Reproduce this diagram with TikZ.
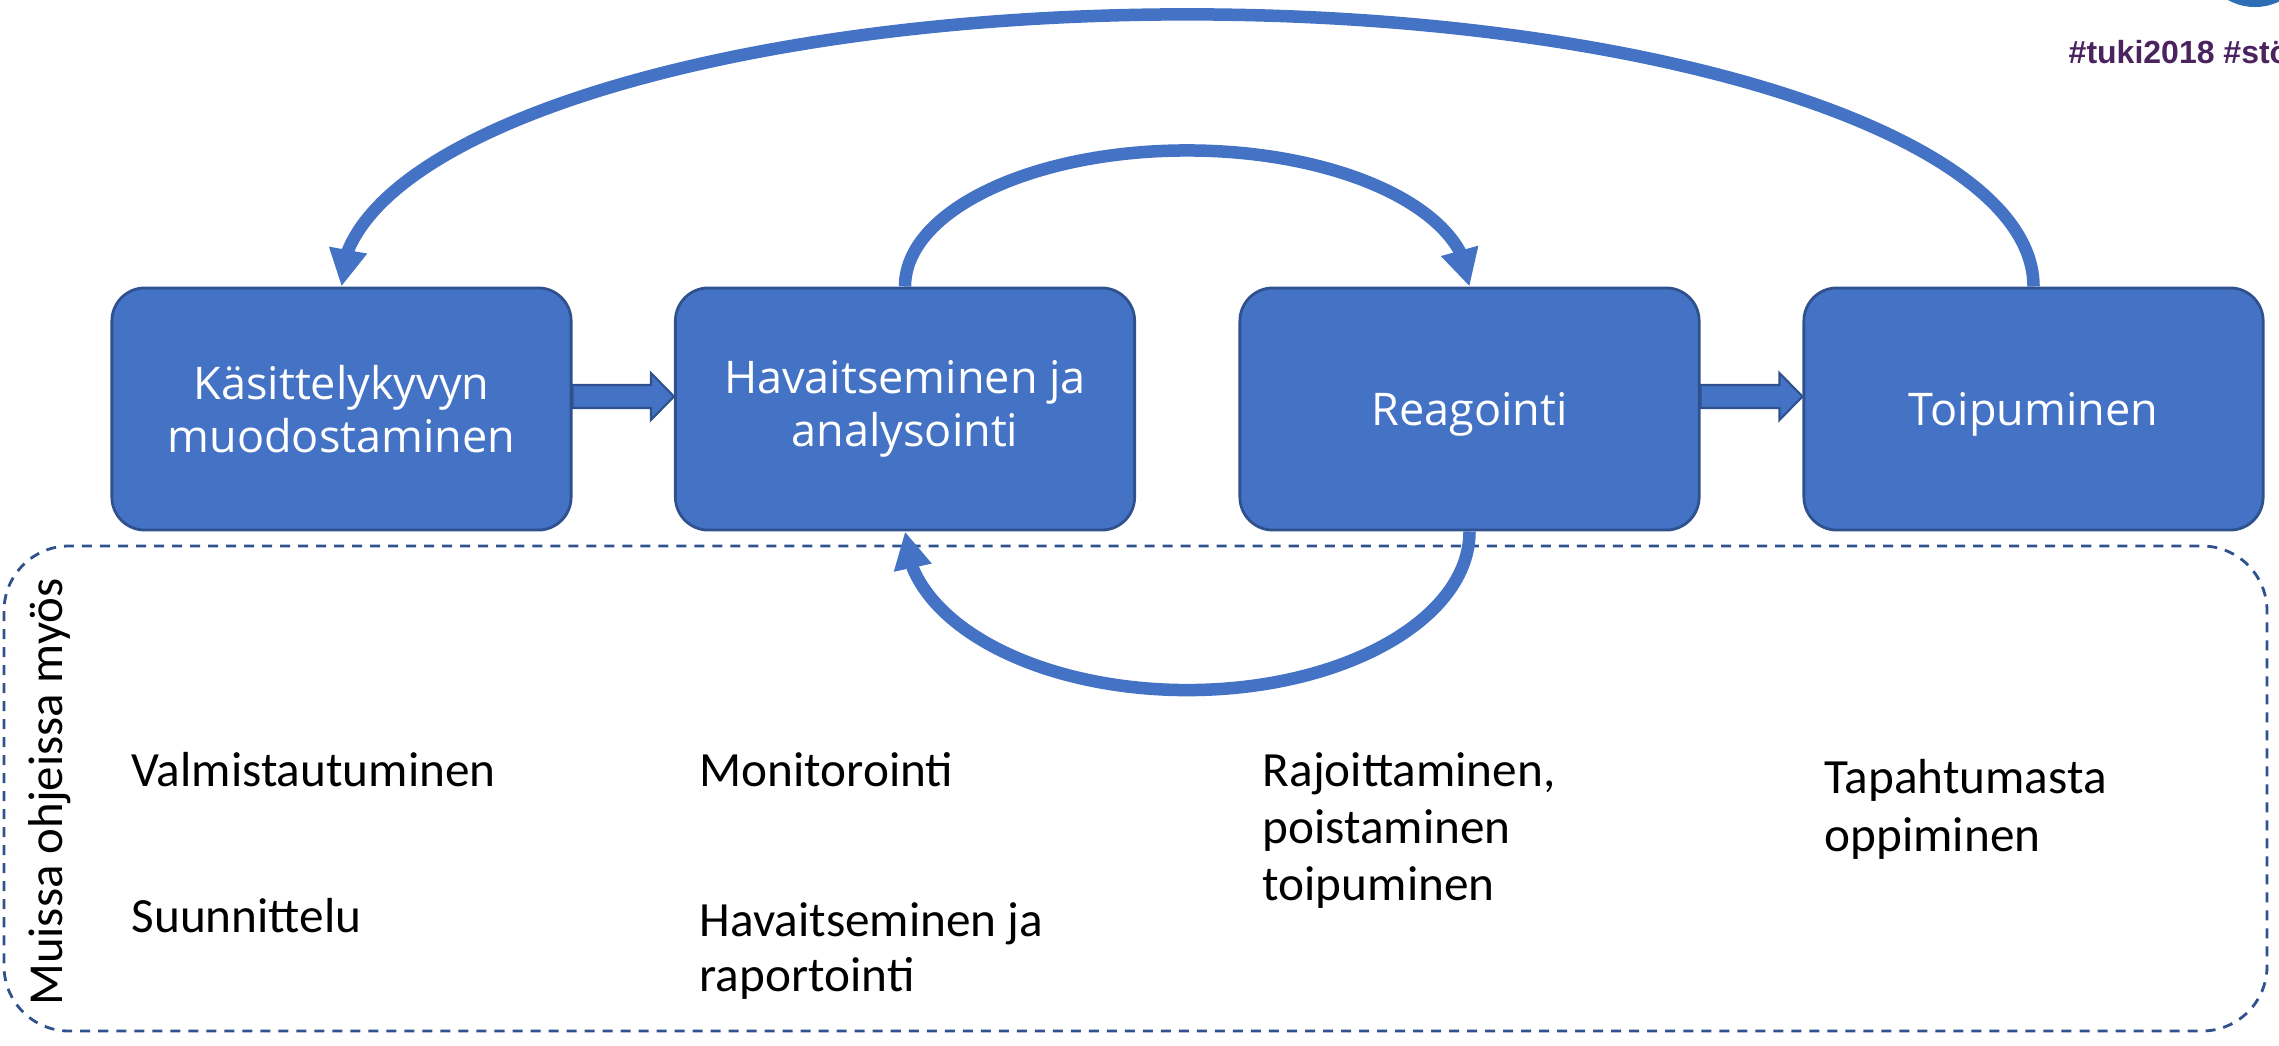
\documentclass[tikz,border=0pt]{standalone}
\usepackage{fontspec}
\setmainfont{Carlito}
\newfontfamily\boxfont{Open Sans}
\newfontfamily\tagfont{Liberation Sans}
\usetikzlibrary{arrows.meta,calc}
\definecolor{procblue}{HTML}{4472C4}
\definecolor{procedge}{HTML}{2F528F}
\definecolor{tagpurple}{RGB}{75,35,95}
\definecolor{badgeblue}{RGB}{46,110,180}
\begin{document}
\begin{tikzpicture}[x=0.01cm,y=-0.01cm,
  phasebox/.style={draw=procedge, line width=0.8pt, fill=procblue,
    rounded corners=0.33cm, minimum width=4.59cm, minimum height=2.42cm,
    inner sep=0pt, align=center, text=white,
    font=\boxfont\fontsize{12.8}{15}\selectfont},
  cyclearrow/.style={draw=procblue, line width=0.125cm,
    -{Triangle[length=0.37cm,width=0.36cm]}},
  blockarrow/.style={fill=procblue, draw=procedge, line width=0.6pt, line join=miter},
  note/.style={anchor=base west, inner sep=0pt, font=\fontsize{14}{16}\selectfont},
  frame/.style={draw=procedge, line width=0.8pt, dash pattern=on 0.1cm off 0.08cm,
    rounded corners=0.65cm}
]
\useasboundingbox (0,0) rectangle (2279,1045);
\clip (0,0) rectangle (2279,1045);

% badge and hashtags in the corner
\fill[badgeblue] (2255,-48.6) circle[radius=0.556cm];
\node[anchor=base west, inner sep=0pt, text=tagpurple,
  font=\tagfont\bfseries\fontsize{9.1}{11}\selectfont] (tag) at (2068,63) {\#tuki2018 \#stö};

% dashed frame around the related guidance
\draw[frame] (4,546) rectangle (2267,1031);

% the four phases
\node[phasebox] (b1) at (341.5,409) {Käsittelykyvyn\\muodostaminen};
\node[phasebox] (b2) at (905,409) {Havaitseminen ja\\analysointi};
\node[phasebox, text depth=0pt] (b3) at (1469.5,409) {Reagointi};
\node[phasebox, text depth=0pt] (b4) at (2033.5,409) {Toipuminen};

% block arrows between neighbouring phases
\draw[blockarrow] ($(b1.east)+(0,-24)$) -- ($(b2.west)+(-23,-24)$)
  -- ($(b2.west)+(-23,-36)$) -- ($(b2.west)+(0,-12.5)$)
  -- ($(b2.west)+(-23,11)$) -- ($(b2.west)+(-23,-1)$)
  -- ($(b1.east)+(0,-1)$) -- cycle;
\draw[blockarrow] ($(b3.east)+(0,-24)$) -- ($(b4.west)+(-23,-24)$)
  -- ($(b4.west)+(-23,-36)$) -- ($(b4.west)+(0,-12.5)$)
  -- ($(b4.west)+(-23,11)$) -- ($(b4.west)+(-23,-1)$)
  -- ($(b3.east)+(0,-1)$) -- cycle;

% feedback loops
\draw[cyclearrow] (b4.north) arc[start angle=0, end angle=172.4,
  x radius=8.46cm, y radius=2.72cm] -- (b1.north);
\draw[cyclearrow] (b2.north) arc[start angle=180, end angle=15,
  x radius=2.82cm, y radius=1.36cm] -- (b3.north);
\draw[cyclearrow] (b3.south) arc[start angle=0, end angle=-166.5,
  x radius=2.82cm, y radius=1.585cm] -- (b2.south);

% side caption
\node[inner sep=0pt, rotate=90, font=\fontsize{13.9}{16}\selectfont] (side) at (50,792) {Muissa ohjeissa myös};

% related activities under each phase
\node[note] (n1a) at (131,786) {Valmistautuminen};
\node[note] (n1b) at (131,932) {Suunnittelu};
\node[note] (n2a) at (699,786) {Monitorointi};
\node[note] (n2b) at (699,936) {Havaitseminen ja};
\node[note] (n2c) at (699,991) {raportointi};
\node[note] (n3a) at (1262,786) {Rajoittaminen,};
\node[note] (n3b) at (1262,843) {poistaminen};
\node[note] (n3c) at (1262,900) {toipuminen};
\node[note] (n4a) at (1824,793) {Tapahtumasta};
\node[note] (n4b) at (1824,851) {oppiminen};
\end{tikzpicture}
\end{document}
